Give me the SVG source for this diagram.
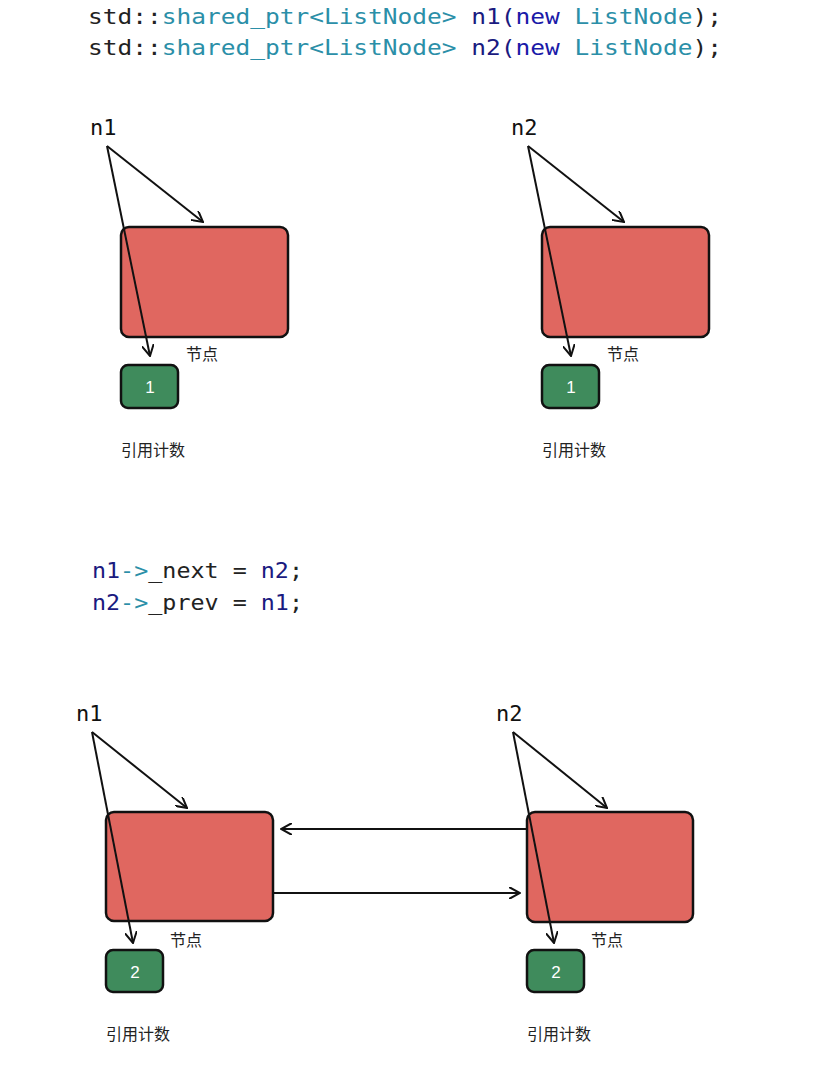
<svg xmlns="http://www.w3.org/2000/svg" width="825" height="1075" viewBox="0 0 825 1075">
<defs>
<marker id="ah" viewBox="0 0 12 12" refX="11" refY="6" markerWidth="12" markerHeight="12" markerUnits="userSpaceOnUse" orient="auto">
<path d="M0,0 L11,6 L0,12" fill="none" stroke="#111" stroke-width="2"/>
</marker>
<style>
.code{font-family:"DejaVu Sans Mono",monospace;font-size:22px}
.k{fill:#222}.t{fill:#2b8fa8}.v{fill:#1a1a80}.b{fill:#1a1aa8}
.lbl{font-family:"DejaVu Sans Mono",monospace;font-size:22px;fill:#111}
.red{fill:#e06760;stroke:#111;stroke-width:2.5}
.grn{fill:#3f8b5c;stroke:#111;stroke-width:2.5}
.cnt{font-family:"Liberation Sans",sans-serif;font-size:17px;fill:#fff;text-anchor:middle}
.cn{font-family:"Noto Sans CJK SC",sans-serif;font-size:16px;fill:#222}
.c{stroke:#111;stroke-width:2;fill:none;marker-end:url(#ah)}
</style>
</defs>
<rect width="825" height="1075" fill="#fff"/>
<text class="code" x="88" y="24" textLength="634" lengthAdjust="spacingAndGlyphs"><tspan class="k">std::</tspan><tspan class="t">shared_ptr&lt;ListNode&gt; </tspan><tspan class="v">n1(</tspan><tspan class="b">new </tspan><tspan class="t">ListNode</tspan><tspan class="k">);</tspan></text>
<text class="code" x="88" y="55" textLength="634" lengthAdjust="spacingAndGlyphs"><tspan class="k">std::</tspan><tspan class="t">shared_ptr&lt;ListNode&gt; </tspan><tspan class="v">n2(</tspan><tspan class="b">new </tspan><tspan class="t">ListNode</tspan><tspan class="k">);</tspan></text>
<text class="code" x="92" y="578" textLength="211" lengthAdjust="spacingAndGlyphs"><tspan class="v">n1</tspan><tspan class="t">-&gt;</tspan><tspan class="k">_next = </tspan><tspan class="v">n2</tspan><tspan class="k">;</tspan></text>
<text class="code" x="92" y="610" textLength="211" lengthAdjust="spacingAndGlyphs"><tspan class="v">n2</tspan><tspan class="t">-&gt;</tspan><tspan class="k">_prev = </tspan><tspan class="v">n1</tspan><tspan class="k">;</tspan></text>

<g id="top-n1"><rect class="red" x="121" y="227" width="167" height="110" rx="8"/><text class="lbl" x="90" y="135">n1</text><text class="cn" x="186" y="360">节点</text></g>
<g id="top-c1"><rect class="grn" x="121" y="365" width="57" height="43" rx="7"/><text class="cnt" x="150" y="393">1</text><text class="cn" x="121" y="456">引用计数</text></g>
<g id="top-n2"><rect class="red" x="542" y="227" width="167" height="110" rx="8"/><text class="lbl" x="511" y="135">n2</text><text class="cn" x="607" y="360">节点</text></g>
<g id="top-c2"><rect class="grn" x="542" y="365" width="57" height="43" rx="7"/><text class="cnt" x="571" y="393">1</text><text class="cn" x="542" y="456">引用计数</text></g>

<g id="bot-n1"><rect class="red" x="106" y="812" width="167" height="109" rx="8"/><text class="lbl" x="76" y="721">n1</text><text class="cn" x="170" y="946">节点</text></g>
<g id="bot-c1"><rect class="grn" x="106" y="950" width="57" height="42" rx="7"/><text class="cnt" x="135" y="978">2</text><text class="cn" x="106" y="1040">引用计数</text></g>
<g id="bot-n2"><rect class="red" x="527" y="812" width="166" height="110" rx="8"/><text class="lbl" x="496" y="721">n2</text><text class="cn" x="591" y="946">节点</text></g>
<g id="bot-c2"><rect class="grn" x="527" y="950" width="57" height="42" rx="7"/><text class="cnt" x="556" y="978">2</text><text class="cn" x="527" y="1040">引用计数</text></g>

<g id="connectors">
<path class="c" d="M107,146 L203,222"/>
<path class="c" d="M107,146 L150,356"/>
<path class="c" d="M528,146 L624,222"/>
<path class="c" d="M528,146 L571,356"/>
<path class="c" d="M92,732 L187,808"/>
<path class="c" d="M92,732 L133,943"/>
<path class="c" d="M513,732 L607,808"/>
<path class="c" d="M513,732 L554,943"/>
<path class="c" d="M527,829 L281,829"/>
<path class="c" d="M273,893 L520,893"/>
</g>
</svg>
